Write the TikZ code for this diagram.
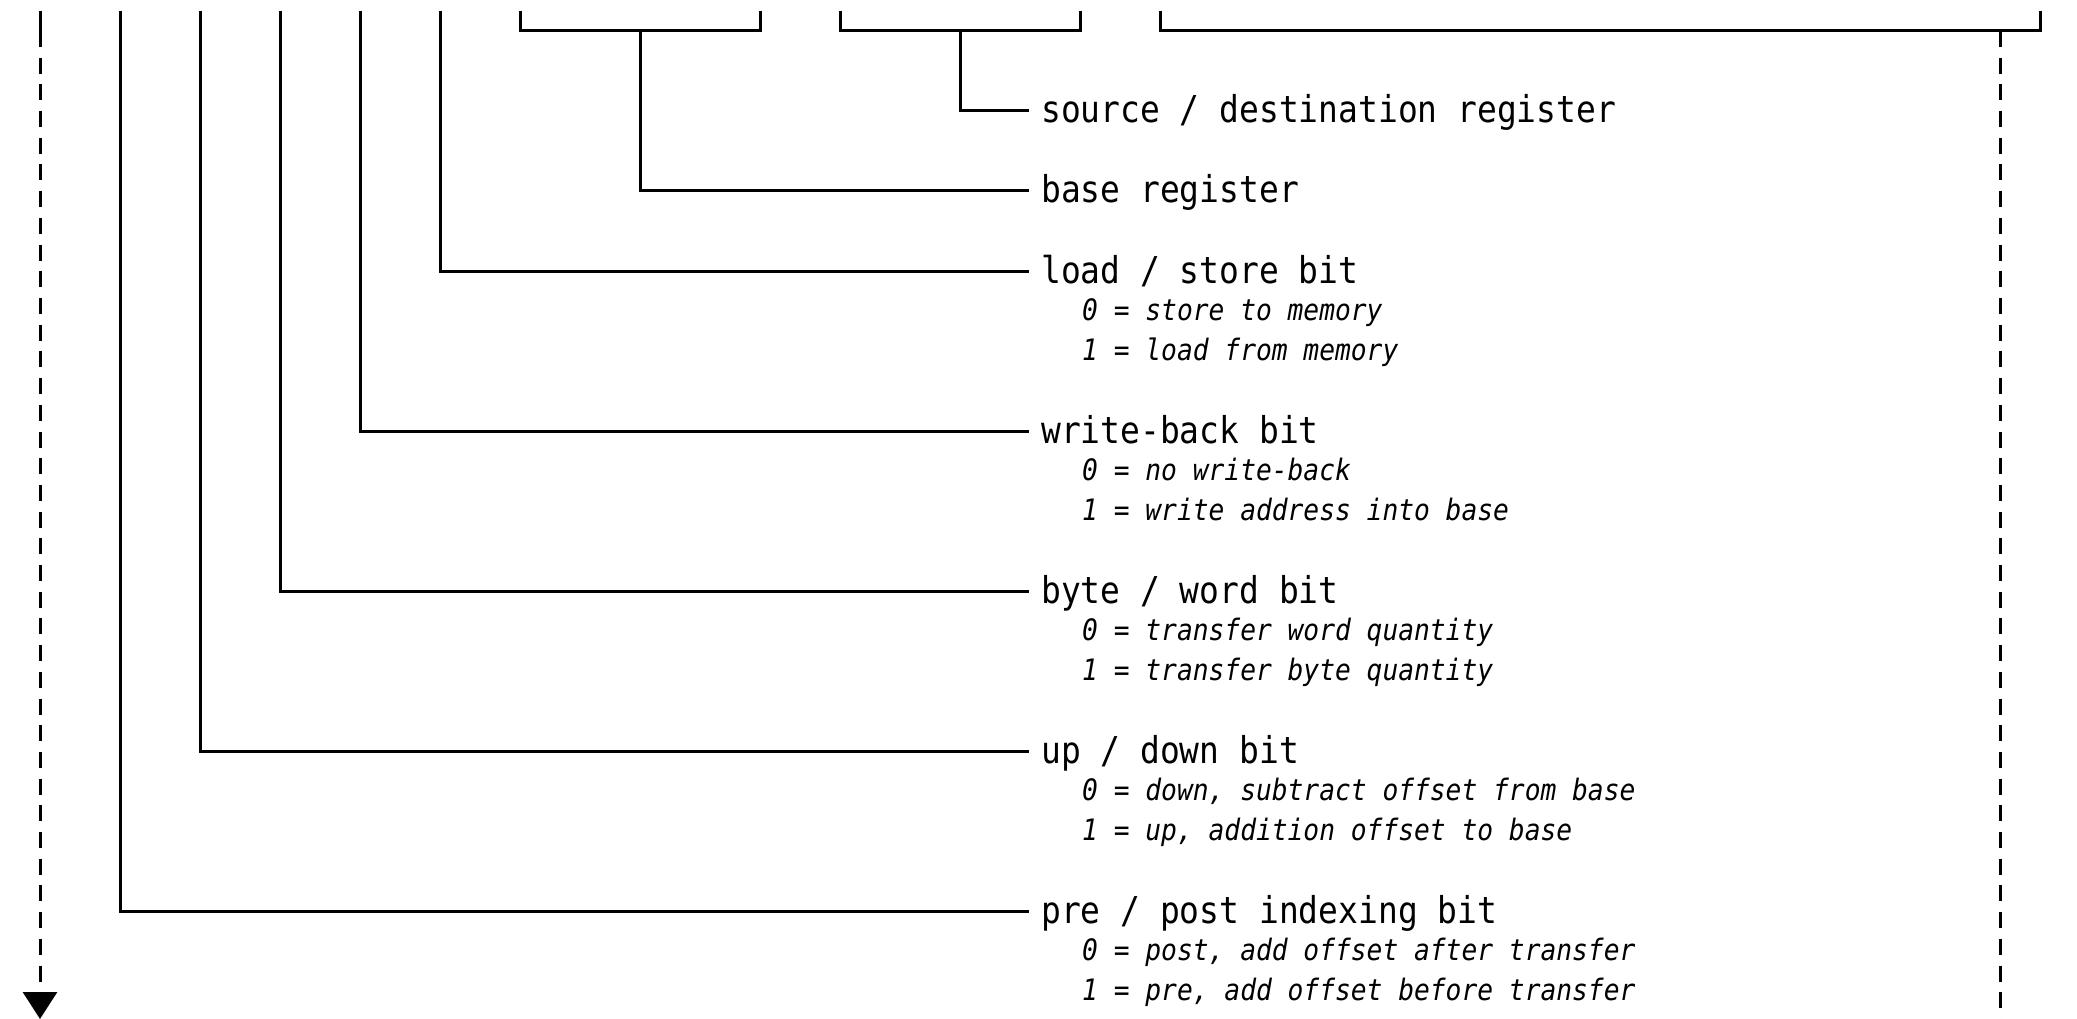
\documentclass[tikz,border=0pt]{standalone}
\usepackage{fontspec}
\setmonofont{DejaVu Sans Mono}[FakeStretch=0.89]
\usetikzlibrary{arrows.meta}

\tikzset{
  field/.style={line width=3pt},
  trail/.style={field,dash pattern=on 16pt off 10.7pt},
  head/.style={anchor=west,inner xsep=12pt,inner ysep=0pt,text height=30pt,text depth=6pt,
    font=\ttfamily\fontsize{37}{37}\selectfont},
  sub/.style={anchor=base west,inner sep=0pt,font=\ttfamily\itshape\fontsize{29.5}{29.5}\selectfont},
}

\begin{document}
\begin{tikzpicture}[x=1pt,y=-1pt]
\useasboundingbox (0,0) rectangle (2077,1019);

\coordinate (I) at (40,11);
\coordinate (P) at (120,11);
\coordinate (U) at (200,11);
\coordinate (B) at (280,11);
\coordinate (W) at (360,11);
\coordinate (L) at (440,11);
\coordinate (Rn) at (640,31);
\coordinate (Rd) at (960,31);
\coordinate (Off) at (2000,31);
\coordinate (I-end) at (40,1019);
\coordinate (Off-end) at (2000,1022);

% register and offset brackets
\draw[field] (520,11) |- (760,31) -- (760,11);
\draw[field] (840,11) |- (1080,31) -- (1080,11);
\draw[field] (1160,11) |- (2040,31) -- (2040,11);

\node(rd) at (1029,111) [head] {source / destination register};
\node(rn) at (1029,191) [head] {base register};
\node(l) at (1029,271) [head] {load / store bit};
\node(w) at (1029,431) [head] {write-back bit};
\node(b) at (1029,591) [head] {byte / word bit};
\node(u) at (1029,751) [head] {up / down bit};
\node(p) at (1029,911) [head] {pre / post indexing bit};

\node(l0) at (1082,320) [sub] {0 = store to memory};
\node(l1) at (1082,360) [sub] {1 = load from memory};
\node(w0) at (1082,480) [sub] {0 = no write-back};
\node(w1) at (1082,520) [sub] {1 = write address into base};
\node(b0) at (1082,640) [sub] {0 = transfer word quantity};
\node(b1) at (1082,680) [sub] {1 = transfer byte quantity};
\node(u0) at (1082,800) [sub] {0 = down, subtract offset from base};
\node(u1) at (1082,840) [sub] {1 = up, addition offset to base};
\node(p0) at (1082,960) [sub] {0 = post, add offset after transfer};
\node(p1) at (1082,1000) [sub] {1 = pre, add offset before transfer};

\draw[field] (Rd) |- (rd);
\draw[field] (Rn) |- (rn);
\draw[field] (L) |- (l);
\draw[field] (W) |- (w);
\draw[field] (B) |- (b);
\draw[field] (U) |- (u);
\draw[field] (P) |- (p);

\draw[field] (I) -- (40,31);
\draw[trail,-{Triangle[width=34pt,length=27pt]}] (40,31) -- (I-end);
\draw[trail] (Off) -- (Off-end);

\end{tikzpicture}
\end{document}
